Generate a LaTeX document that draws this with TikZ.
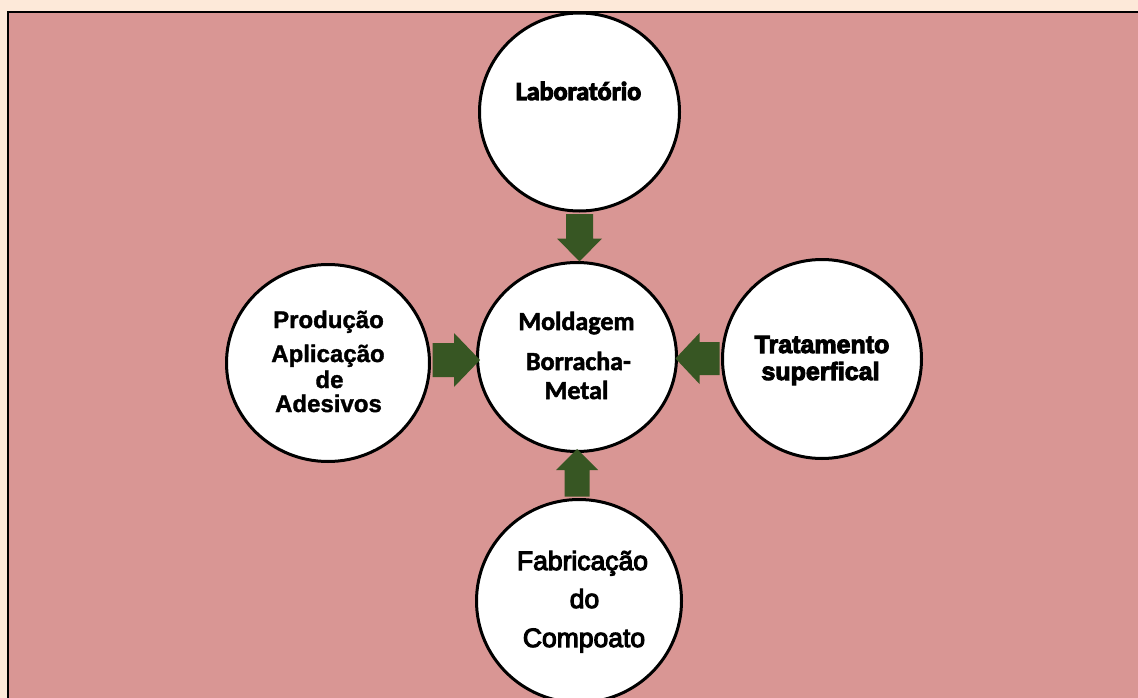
\documentclass[tikz,border=0pt]{standalone}
\usepackage{fontspec}
\usetikzlibrary{shapes.geometric,calc}
\newfontfamily\carl{Carlito}[BoldFeatures={FakeBold=2}]
\newfontfamily\carlx{Carlito}[BoldFeatures={FakeBold=4}]
\newfontfamily\arl{Liberation Sans}[BoldFeatures={FakeBold=1.5}]
\newfontfamily\arlx{Liberation Sans}[BoldFeatures={FakeBold=4}]
\newfontfamily\arlf{Liberation Sans}[UprightFeatures={FakeBold=4}]
\definecolor{peach}{HTML}{FDE9D9}
\definecolor{rosebg}{HTML}{D99694}
\definecolor{arrowgreen}{HTML}{375623}
\newcommand\blockarrow[5]{%
  \path (#1) coordinate (ba-a) (#2) coordinate (ba-b);
  \path ($(ba-b)!#5!(ba-a)$) coordinate (ba-h);
  \fill[arrowgreen] ($(ba-a)!#3!90:(ba-b)$) -- ($(ba-h)!#3!90:(ba-b)$) -- ($(ba-h)!#4!90:(ba-b)$) -- (ba-b) -- ($(ba-h)!#4!-90:(ba-b)$) -- ($(ba-h)!#3!-90:(ba-b)$) -- ($(ba-a)!#3!-90:(ba-b)$) -- cycle;}
\begin{document}
\begin{tikzpicture}[x=1pt,y=-1pt,
  circ/.style={ellipse,draw=black,line width=3pt,fill=white,inner sep=0pt},
  txt/.style={anchor=base,inner sep=0pt}]
\useasboundingbox (0,0) rectangle (1138,698);
\clip (0,0) rectangle (1138,698);
\fill[peach] (0,0) rectangle (1138,698);
\draw[fill=rosebg,line width=2pt] (7.5,12.5) rectangle (1160,720);
% circles
\node[circ,minimum width=200pt,minimum height=198pt] (lab) at (579.5,112) {};
\node[circ,minimum width=199pt,minimum height=189pt] (mold) at (577,357) {};
\node[circ,minimum width=203pt,minimum height=197pt] (prod) at (328,363) {};
\node[circ,minimum width=199pt,minimum height=199pt] (trat) at (822,359) {};
\node[circ,minimum width=205pt,minimum height=203pt] (fab) at (579,601) {};
% arrows
\blockarrow{$(lab.south)+(0,1.5)$}{$(lab.south |- mold.north)+(0,0.5)$}{13.5pt}{22.5pt}{23pt}
\blockarrow{$(mold.south |- fab.north)+(0,-1.5)$}{$(mold.south)+(0,-4)$}{12.5pt}{21pt}{21pt}
\blockarrow{$(prod.east)+(1.5,-3)$}{$(mold.west)+(4,3)$}{17pt}{27pt}{26pt}
\blockarrow{$(trat.west)+(-1.5,-0.5)$}{$(mold.east)+(-2.5,1.5)$}{16.5pt}{25.5pt}{24pt}
% texts
\node[txt,font=\carlx\bfseries\fontsize{26}{26}\selectfont] (tlab) at (578.5,100) {Laboratório};
\node[txt,font=\carl\bfseries\fontsize{26}{26}\selectfont] (tmold1) at (576.5,330) {Moldagem};
\node[txt,font=\carl\bfseries\fontsize{26}{26}\selectfont] (tmold2) at (578.5,370) {Borracha-};
\node[txt,font=\carl\bfseries\fontsize{26}{26}\selectfont] (tmold3) at (576.5,399) {Metal};
\node[txt,font=\arlx\bfseries\fontsize{25}{25}\selectfont] (ttrat1) at (822,353) {Tratamento};
\node[txt,font=\arlx\bfseries\fontsize{25}{25}\selectfont] (ttrat2) at (820.5,380) {superfical};
\node[txt,font=\arl\bfseries\fontsize{24}{24}\selectfont] (tprod1) at (328.5,328) {Produção};
\node[txt,font=\arl\bfseries\fontsize{24}{24}\selectfont] (tprod2) at (328,362) {Aplicação};
\node[txt,font=\arl\bfseries\fontsize{24}{24}\selectfont] (tprod3) at (329.5,388) {de};
\node[txt,font=\arl\bfseries\fontsize{24}{24}\selectfont] (tprod4) at (328.5,412) {Adesivos};
\node[txt,font=\arlf\fontsize{26.5}{26.5}\selectfont] (tfab1) at (582.5,570) {Fabricação};
\node[txt,font=\arlf\fontsize{26.5}{26.5}\selectfont] (tfab2) at (584.5,608) {do};
\node[txt,font=\arlf\fontsize{26.5}{26.5}\selectfont] (tfab3) at (584,647) {Compoato};
\end{tikzpicture}
\end{document}
